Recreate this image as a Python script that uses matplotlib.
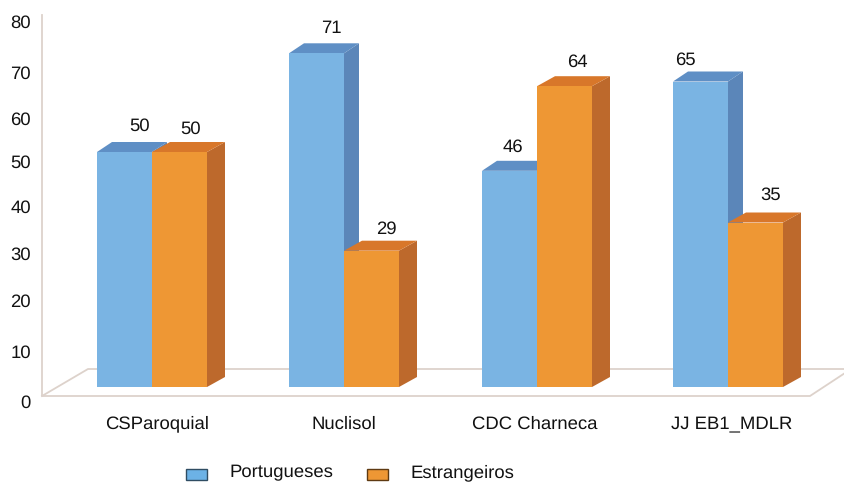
import matplotlib
matplotlib.use('Agg')
import matplotlib.pyplot as plt
from matplotlib.patches import Polygon

plt.rcParams['font.family'] = ['Liberation Sans', 'DejaVu Sans']
plt.rcParams['text.hinting'] = 'none'

categories = ['CSParoquial', 'Nuclisol', 'CDC Charneca', 'JJ EB1_MDLR']
portugueses = [50, 71, 46, 65]
estrangeiros = [50, 29, 64, 35]
y_ticks = [0, 10, 20, 30, 40, 50, 60, 70, 80]

# the value axis labels sit on their own uneven spacing, in pixels from the top
y_tick_px = [403, 353, 302, 255, 208, 163, 120, 74, 23]

W, H = 845, 482
FLOOR = 387.0     # pixel row of value 0 on the bar fronts
SCALE = 4.7       # pixels per unit
RISE = 10 / SCALE
BAR_W = 55
group_x = [97, 289, 482, 673]


def px(row):
    return (FLOOR - row) / SCALE


def bar3d(ax, x, value, w, depth, front, side, top, z):
    ax.bar(x, value, w, align='edge', color=front, linewidth=0, zorder=z + 0.2)
    r = x + w
    ax.add_patch(Polygon([(r, 0), (r + depth, RISE), (r + depth, value + RISE), (r, value)],
                         closed=True, fc=side, ec='none', zorder=z))
    ax.add_patch(Polygon([(x, value), (x + depth, value + RISE), (r + depth, value + RISE), (r, value)],
                         closed=True, fc=top, ec='none', zorder=z + 0.1))


fig = plt.figure(figsize=(W / 100, H / 100), dpi=100)
ax = fig.add_axes([0, 0, 1, 1])
ax.set_xlim(0, W)
ax.set_ylim(px(H), px(0))
ax.axis('off')

# wall and floor outline
grid_c = '#ddd2cb'
ax.plot([42, 42, 810, 845], [px(15), px(396), px(396), px(373)], color=grid_c, lw=1.3, zorder=1)
ax.plot([42, 88, 845], [px(396), px(369), px(369)], color=grid_c, lw=1.3, zorder=1)

for i, x in enumerate(group_x):
    bar3d(ax, x, portugueses[i], BAR_W, 15, '#7ab4e3', '#5b86b9', '#5f8fc5', 2)
    bar3d(ax, x + BAR_W, estrangeiros[i], BAR_W, 18, '#ee9734', '#bd692c', '#d8772a', 3)

fs = 13.3
for lab, row in zip(y_ticks, y_tick_px):
    ax.text(31, px(row), str(lab), ha='right', va='center', fontsize=fs, color='#111111')

for x, lab, dx in zip(group_x, categories, [60, 55, 53, 59]):
    ax.text(x + dx, px(424), lab, ha='center', va='center', fontsize=fs, color='#111111')

# value labels
for x, v, dx, row in zip(group_x, portugueses, [43, 42, 31, 12], [126, 28, 147, 60]):
    ax.text(x + dx, px(row), str(v), ha='center', va='center', fontsize=fs, color='#111111')
for x, v, dx, row in zip(group_x, estrangeiros, [94, 97, 95, 98], [129, 229, 62, 195]):
    ax.text(x + dx, px(row), str(v), ha='center', va='center', fontsize=fs, color='#111111')

h1 = ax.bar(0, 0, color='#6cb2e6', edgecolor='#2f4d63', linewidth=1.0)
h2 = ax.bar(0, 0, color='#ee9734', edgecolor='#5e3a12', linewidth=1.0)
leg = fig.legend([h1, h2], ['Portugueses', 'Estrangeiros'], ncol=2, frameon=False, fontsize=fs,
                 loc='center', bbox_to_anchor=(350 / W, 1 - 473 / H), handlelength=1.15, handleheight=0.55,
                 handletextpad=1.2, columnspacing=1.8, labelcolor='#111111')
# drop the swatches a little below the text baseline
for patch in leg.get_patches():
    patch.set_y(patch.get_y() - 2.5)

fig.savefig('out.png', dpi=100)
